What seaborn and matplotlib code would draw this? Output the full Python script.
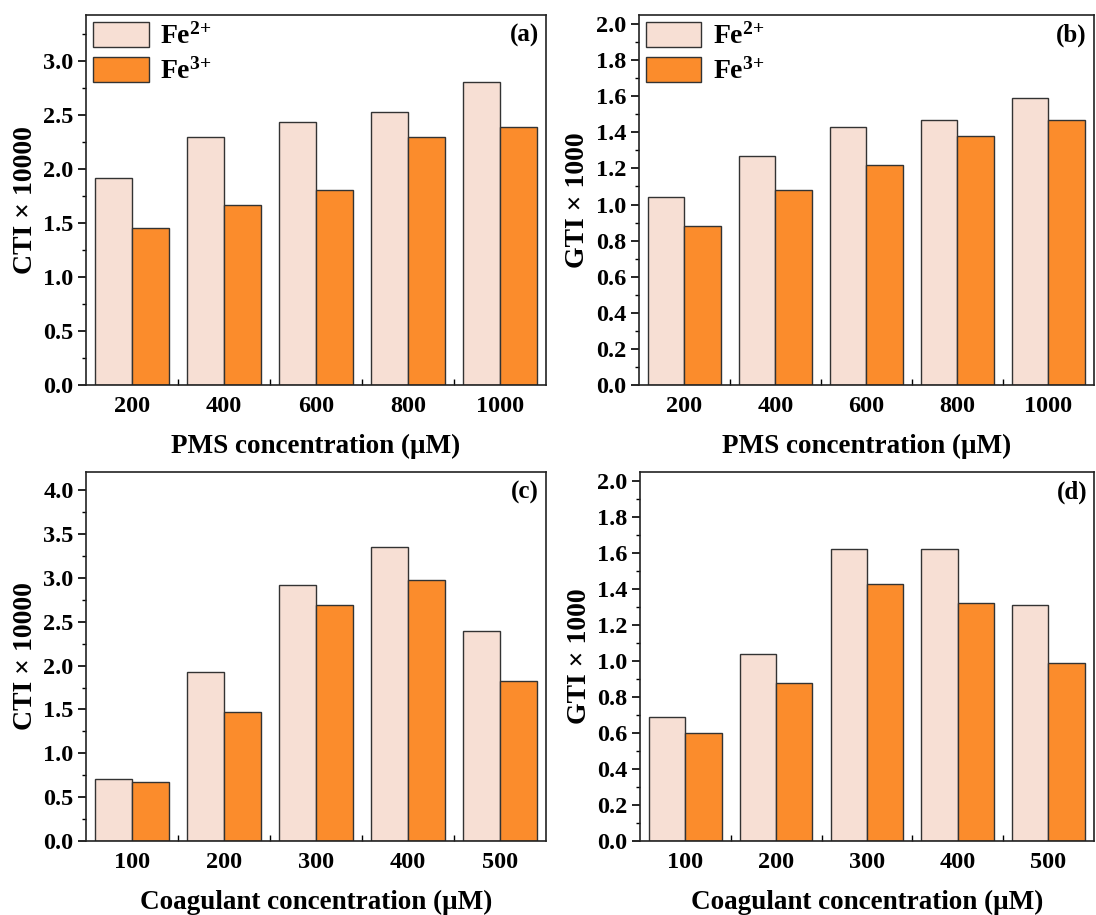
import numpy as np
import pandas as pd
import matplotlib
matplotlib.use("Agg")
import matplotlib.pyplot as plt
from matplotlib.ticker import MultipleLocator, FixedLocator
import seaborn as sns

# data
pms_conc = ["200", "400", "600", "800", "1000"]
coag_conc = ["100", "200", "300", "400", "500"]
ions = ["Fe$^{2{+}}$", "Fe$^{3{+}}$"]

cti_pms_fe2 = [1.92, 2.30, 2.44, 2.53, 2.81]
cti_pms_fe3 = [1.46, 1.67, 1.81, 2.30, 2.39]
gti_pms_fe2 = [1.04, 1.27, 1.43, 1.47, 1.59]
gti_pms_fe3 = [0.88, 1.08, 1.22, 1.38, 1.47]

cti_coag_fe2 = [0.71, 1.93, 2.92, 3.35, 2.40]
cti_coag_fe3 = [0.67, 1.47, 2.69, 2.98, 1.82]
gti_coag_fe2 = [0.69, 1.04, 1.62, 1.62, 1.31]
gti_coag_fe3 = [0.60, 0.88, 1.43, 1.32, 0.99]

sns.set_style("ticks")
plt.rcParams["font.family"] = ["Liberation Serif", "DejaVu Serif"]
plt.rcParams["font.weight"] = "bold"
plt.rcParams["axes.labelweight"] = "bold"
plt.rcParams["text.color"] = "black"
plt.rcParams["axes.labelcolor"] = "black"
plt.rcParams["xtick.color"] = "black"
plt.rcParams["ytick.color"] = "black"
plt.rcParams["mathtext.fontset"] = "custom"
plt.rcParams["mathtext.rm"] = "Liberation Serif:bold"
plt.rcParams["mathtext.bf"] = "Liberation Serif:bold"
plt.rcParams["mathtext.default"] = "rm"

colors = ["#F7DFD4", "#FB8C2C"]


def make_df(conc, fe2, fe3):
    return pd.DataFrame({
        "conc": conc + conc,
        "val": fe2 + fe3,
        "ion": [ions[0]] * len(conc) + [ions[1]] * len(conc),
    })


fig = plt.figure(figsize=(10.96, 9.15), dpi=100)
axes = [
    fig.add_axes([0.0785, 0.5792, 0.4197, 0.4044]),
    fig.add_axes([0.583, 0.5792, 0.415, 0.4044]),
    fig.add_axes([0.0785, 0.0809, 0.4197, 0.4033]),
    fig.add_axes([0.584, 0.0809, 0.414, 0.4033]),
]

panels = [
    (pms_conc, cti_pms_fe2, cti_pms_fe3, "CTI × 10000", "PMS concentration (μM)", "(a)", 3.43, 0.5, 0.25, True),
    (pms_conc, gti_pms_fe2, gti_pms_fe3, "GTI × 1000", "PMS concentration (μM)", "(b)", 2.05, 0.2, 0.1, True),
    (coag_conc, cti_coag_fe2, cti_coag_fe3, "CTI × 10000", "Coagulant concentration (μM)", "(c)", 4.21, 0.5, 0.25, False),
    (coag_conc, gti_coag_fe2, gti_coag_fe3, "GTI × 1000", "Coagulant concentration (μM)", "(d)", 2.05, 0.2, 0.1, False),
]

for ax, (conc, fe2, fe3, ylab, xlab, tag, ytop, major, minor, show_leg) in zip(axes, panels):
    df = make_df(conc, fe2, fe3)
    sns.barplot(data=df, x="conc", y="val", hue="ion", order=conc,
                hue_order=ions, palette=colors, saturation=1,
                edgecolor="#333333", linewidth=1.0, width=0.8, ax=ax)
    ax.set_xlim(-0.5, len(conc) - 0.5)
    ax.set_ylim(0, ytop)
    ax.yaxis.set_major_locator(MultipleLocator(major))
    ax.yaxis.set_minor_locator(MultipleLocator(minor))
    ax.xaxis.set_minor_locator(FixedLocator(np.arange(len(conc) - 1) + 0.5))
    ax.tick_params(axis="x", which="major", length=0, labelsize=17.5, pad=8)
    ax.tick_params(axis="x", which="minor", direction="in", length=4, width=1)
    ax.tick_params(axis="y", which="major", direction="out", length=6, width=1.2, labelsize=17.5, pad=3)
    ax.tick_params(axis="y", which="minor", direction="out", length=3, width=1)
    for lab in ax.get_xticklabels() + ax.get_yticklabels():
        lab.set_fontweight("bold")
    for s in ax.spines.values():
        s.set_visible(True)
        s.set_linewidth(1.2)
        s.set_color("#222222")
    ax.set_ylabel(ylab, fontsize=20, fontweight="bold", labelpad=4)
    ax.set_xlabel(xlab, fontsize=19.5, fontweight="bold", labelpad=12)
    ax.text(0.985, 0.945, tag, transform=ax.transAxes, ha="right", va="center",
            fontsize=18, fontweight="bold")
    if show_leg:
        h, l = ax.get_legend_handles_labels()
        ax.legend(h, l, loc="upper left", frameon=False, fontsize=20,
                  handlelength=2.0, handleheight=1.0, labelspacing=0.25,
                  handletextpad=0.4, borderaxespad=0.15, borderpad=0.1)
    else:
        ax.get_legend().remove()

fig.savefig("out.png", dpi=100)
